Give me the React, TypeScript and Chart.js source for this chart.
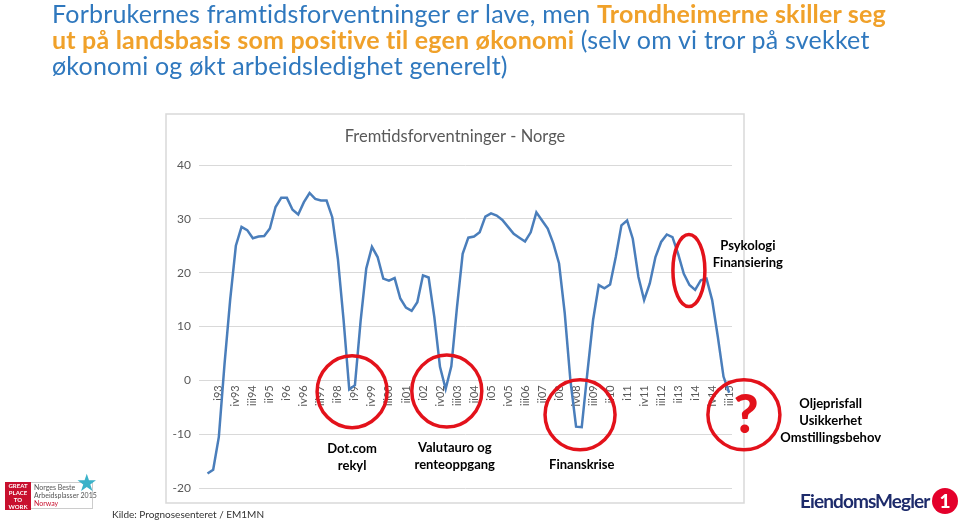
import React, { useEffect, useRef } from 'react';
import { Chart, registerables } from 'chart.js';

Chart.register(...registerables);

// ---- Data ----
const quarters = [
  'ii92', 'iii92', 'iv92',
  'i93', 'ii93', 'iii93', 'iv93', 'i94', 'ii94', 'iii94', 'iv94',
  'i95', 'ii95', 'iii95', 'iv95', 'i96', 'ii96', 'iii96', 'iv96',
  'i97', 'ii97', 'iii97', 'iv97', 'i98', 'ii98', 'iii98', 'iv98',
  'i99', 'ii99', 'iii99', 'iv99', 'i00', 'ii00', 'iii00', 'iv00',
  'i01', 'ii01', 'iii01', 'iv01', 'i02', 'ii02', 'iii02', 'iv02',
  'i03', 'ii03', 'iii03', 'iv03', 'i04', 'ii04', 'iii04', 'iv04',
  'i05', 'ii05', 'iii05', 'iv05', 'i06', 'ii06', 'iii06', 'iv06',
  'i07', 'ii07', 'iii07', 'iv07', 'i08', 'ii08', 'iii08', 'iv08',
  'i09', 'ii09', 'iii09', 'iv09', 'i10', 'ii10', 'iii10', 'iv10',
  'i11', 'ii11', 'iii11', 'iv11', 'i12', 'ii12', 'iii12', 'iv12',
  'i13', 'ii13', 'iii13', 'iv13', 'i14', 'ii14', 'iii14', 'iv14',
  'i15', 'ii15', 'iii15',
];

const expectations: (number | null)[] = [
  null,
  -17.3, -16.6, -10.5, 3, 15, 25, 28.5, 27.9, 26.4, 26.7,
  26.8, 28.2, 32.2, 33.9, 33.9, 31.7, 30.8, 33.1, 34.8, 33.7,
  33.4, 33.4, 30.3, 22.5, 11.2, -1.7, -0.9, 11, 20.8, 24.8,
  22.9, 18.9, 18.5, 19.0, 15.2, 13.5, 12.9, 14.5, 19.5, 19.1,
  11.8, 2.5, -1.6, 2.6, 13.6, 23.5, 26.5, 26.7, 27.5, 30.4,
  31.0, 30.6, 29.8, 28.5, 27.2, 26.5, 25.8, 27.5, 31.2, 29.7,
  28.2, 25.4, 21.7, 12.5, 0, -8.6, -8.7, 1.5, 11.2, 17.7,
  17.1, 17.8, 22.9, 28.8, 29.7, 26.3, 19.2, 14.9, 18.0, 22.9,
  25.7, 27.1, 26.6, 23.5, 19.8, 17.7, 16.8, 18.6, 18.9, 14.9,
  8.1, 0.7, -2.3,
];

const shownTickLabels = [
  'i93', 'iv93', 'iii94', 'ii95', 'i96', 'iv96', 'iii97', 'ii98', 'i99', 'iv99',
  'iii00', 'ii01', 'i02', 'iv02', 'iii03', 'ii04', 'i05', 'iv05', 'iii06', 'ii07',
  'i08', 'iv08', 'iii09', 'ii10', 'i11', 'iv11', 'iii12', 'ii13', 'i14', 'iv14', 'iii15',
];

const yMin = -20;
const yMax = 40;
const yStep = 10;

const chartTitle = 'Fremtidsforventninger - Norge';

// ---- Annotations (anchored in data coordinates: category index / value) ----
const rings = [
  { at: 26.5, value: -2.1, rx: 35, ry: 36 },
  { at: 43.2, value: -2.0, rx: 35, ry: 36 },
  { at: 66.7, value: -6.4, rx: 35, ry: 35 },
  { at: 95.6, value: -6.4, rx: 36, ry: 35 },
  { at: 85.9, value: 20.4, rx: 16, ry: 36 },
];

const notes = [
  { at: 26.5, value: -12.7, lines: ['Dot.com', 'rekyl'] },
  { at: 44.6, value: -12.5, lines: ['Valutauro og', 'renteoppgang'] },
  { at: 67.0, value: -15.7, lines: ['Finanskrise'] },
  { at: 96.3, value: 25.0, lines: ['Psykologi', 'Finansiering'] },
  { at: 110.9, value: -4.3, lines: ['Oljeprisfall', 'Usikkerhet', 'Omstillingsbehov'] },
];

const question = { at: 96.0, value: -6.2, text: '?' };

const FONT = 'Lato, "Open Sans", sans-serif';
const RED = '#e3121b';
const FRAME = { left: 166, top: 114, width: 578, height: 389 };

const slidePlugin = {
  id: 'slidePlugin',
  beforeDraw(chart: any) {
    const { ctx } = chart;
    ctx.save();
    ctx.fillStyle = '#ffffff';
    ctx.fillRect(0, 0, chart.width, chart.height);
    ctx.strokeStyle = '#d9d9d9';
    ctx.lineWidth = 1.5;
    ctx.strokeRect(FRAME.left, FRAME.top, FRAME.width, FRAME.height);
    ctx.fillStyle = '#595959';
    ctx.font = `16.5px ${FONT}`;
    ctx.textAlign = 'center';
    ctx.textBaseline = 'middle';
    ctx.fillText(chartTitle, FRAME.left + FRAME.width / 2, FRAME.top + 23);
    ctx.restore();
  },
  afterDatasetsDraw(chart: any) {
    const { ctx } = chart;
    const x = chart.scales.x;
    const y = chart.scales.y;
    ctx.save();
    ctx.strokeStyle = RED;
    ctx.lineWidth = 3.5;
    rings.forEach((r) => {
      ctx.beginPath();
      ctx.ellipse(x.getPixelForValue(r.at), y.getPixelForValue(r.value), r.rx, r.ry, 0, 0, Math.PI * 2);
      ctx.stroke();
    });
    ctx.fillStyle = '#000000';
    ctx.font = `bold 13px ${FONT}`;
    ctx.textAlign = 'center';
    ctx.textBaseline = 'middle';
    notes.forEach((n) => {
      const cx = x.getPixelForValue(n.at);
      const cy = y.getPixelForValue(n.value);
      n.lines.forEach((line, i) => ctx.fillText(line, cx, cy + i * 17));
    });
    ctx.fillStyle = RED;
    ctx.font = `900 54px ${FONT}`;
    ctx.fillText(question.text, x.getPixelForValue(question.at), y.getPixelForValue(question.value) + 2);
    ctx.restore();
  },
};

function ChartCanvas() {
  const ref = useRef<HTMLCanvasElement | null>(null);
  useEffect(() => {
    if (!ref.current) return;
    const chart = new Chart(ref.current, {
      type: 'line',
      data: {
        labels: quarters,
        datasets: [
          {
            label: chartTitle,
            data: expectations,
            borderColor: '#4a7ebb',
            borderWidth: 2.5,
            pointRadius: 0,
            tension: 0,
            fill: false,
          },
        ],
      },
      options: {
        animation: false,
        responsive: false,
        maintainAspectRatio: false,
        layout: { padding: { left: 166, right: 228, top: 165, bottom: 34 } },
        plugins: {
          legend: { display: false },
          tooltip: { enabled: false },
          title: { display: false },
        },
        scales: {
          x: {
            type: 'category',
            offset: true,
            position: { y: 0 } as any,
            grid: { display: false, drawTicks: false },
            border: { display: false },
            ticks: {
              autoSkip: false,
              minRotation: 90,
              maxRotation: 90,
              padding: 5,
              color: '#595959',
              font: { family: FONT, size: 11 },
              callback: (_v: any, i: number) => (shownTickLabels.includes(quarters[i]) ? quarters[i] : ''),
            },
          },
          y: {
            min: yMin,
            max: yMax,
            afterFit: (scale: any) => {
              scale.width = 33;
            },
            grid: { color: '#d9d9d9', drawTicks: false },
            border: { display: false },
            ticks: {
              stepSize: yStep,
              padding: 8,
              color: '#595959',
              font: { family: FONT, size: 12 },
            },
          },
        },
      },
      plugins: [slidePlugin],
    });
    return () => chart.destroy();
  }, []);
  return <canvas ref={ref} width={960} height={522} style={{ position: 'absolute', left: 0, top: 0 }} />;
}

export default function App() {
  const blue = '#2f78be';
  const orange = '#f0a12a';
  return (
    <div style={{ position: 'absolute', left: 0, top: 0, width: 960, height: 522, background: '#fff', overflow: 'hidden', fontFamily: FONT }}>
      <ChartCanvas />
      <div style={{ position: 'absolute', left: 52, top: 0, width: 900, fontSize: 25, letterSpacing: 0.2, lineHeight: '26px', color: blue, whiteSpace: 'nowrap' }}>
        Forbrukernes framtidsforventninger er lave, men <b style={{ color: orange }}>Trondheimerne skiller seg</b>
        <br />
        <b style={{ color: orange }}>ut på landsbasis som positive til egen økonomi</b> (selv om vi tror på svekket
        <br />
        økonomi og økt arbeidsledighet generelt)
      </div>
      <div style={{ position: 'absolute', left: 112, top: 508, fontSize: 10, color: '#333', whiteSpace: 'nowrap' }}>
        Kilde: Prognosesenteret / EM1MN
      </div>
      {/* Great Place to Work badge */}
      <div style={{ position: 'absolute', left: 5, top: 482, width: 26, height: 28, background: '#c8102e', color: '#fff', fontSize: 6, lineHeight: '7px', fontWeight: 700, textAlign: 'center' }}>
        GREAT<br />PLACE<br />TO<br />WORK
      </div>
      <div style={{ position: 'absolute', left: 31, top: 482, width: 62, height: 27, border: '1px solid #ccc', borderLeft: 'none', fontSize: 7, lineHeight: '8px', color: '#555', paddingLeft: 3, boxSizing: 'border-box', whiteSpace: 'nowrap' }}>
        Norges Beste<br />Arbeidsplasser 2015<br /><span style={{ color: '#c8102e' }}>Norway</span>
      </div>
      <div style={{ position: 'absolute', left: 76, top: 470, fontSize: 24, color: '#3bb2c9', lineHeight: '24px' }}>★</div>
      {/* EiendomsMegler 1 logo */}
      <div style={{ position: 'absolute', left: 800, top: 489, fontSize: 19, fontWeight: 700, color: '#1d2b6b', letterSpacing: -0.9, whiteSpace: 'nowrap', lineHeight: '24px' }}>
        EiendomsMegler
      </div>
      <div style={{ position: 'absolute', left: 932, top: 488, width: 26, height: 26, borderRadius: 13, background: '#e4002b', color: '#fff', fontWeight: 900, fontSize: 19, lineHeight: '26px', textAlign: 'center' }}>
        1
      </div>
    </div>
  );
}
